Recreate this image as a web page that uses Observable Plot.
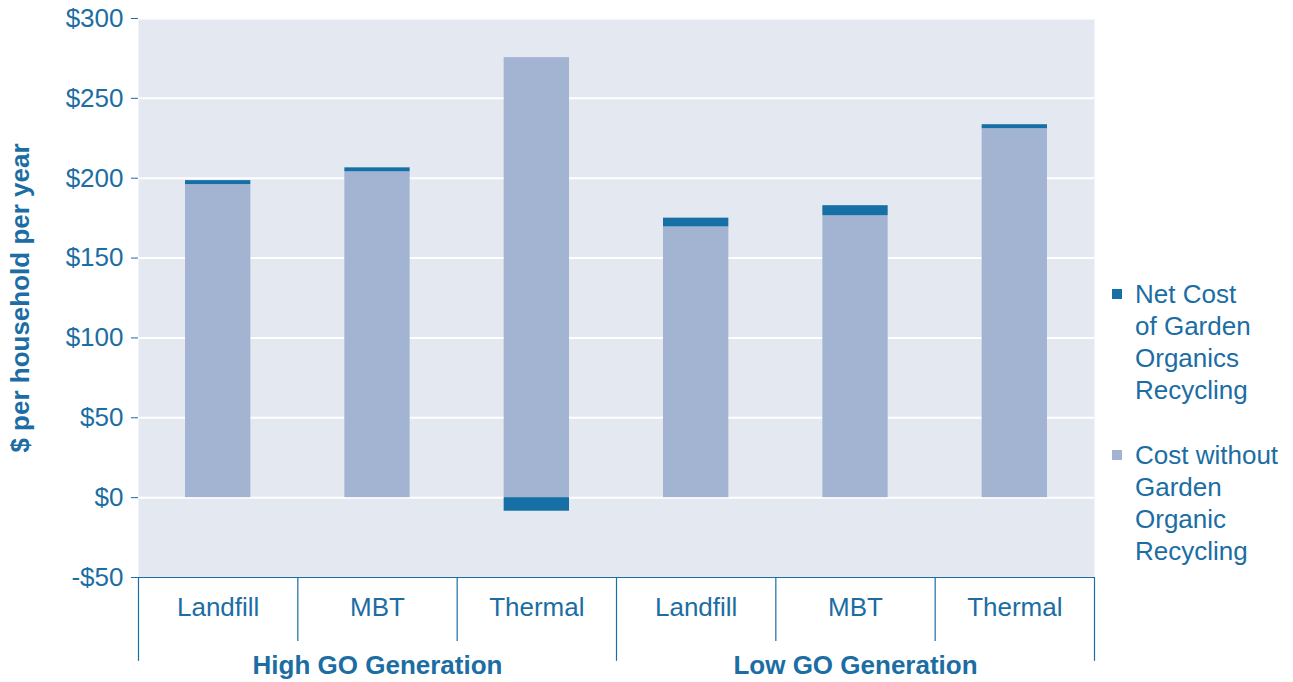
<!DOCTYPE html>
<html>
<head>
<meta charset="utf-8">
<script src="https://cdn.jsdelivr.net/npm/d3@7"></script>
<script src="https://cdn.jsdelivr.net/npm/@observablehq/plot@0.6"></script>
<style>
  body { margin: 0; background: #fff; font-family: Arial, "Liberation Sans", sans-serif; }
  #wrap { position: relative; width: 1293px; height: 682px; }
  #legend { position: absolute; left: 1111px; top: 278px; color: #1B6DA3; font-size: 26px; line-height: 32px; white-space: nowrap; }
  .item { position: relative; padding-left: 24px; margin-bottom: 33px; }
  .sw { position: absolute; left: 1px; top: 11px; width: 10px; height: 10px; }
</style>
</head>
<body>
<div id="wrap">
  <div id="chart"></div>
  <div id="legend"></div>
</div>
<script>
const groups = ["High GO Generation", "Low GO Generation"];
const types = ["Landfill", "MBT", "Thermal"];
const seriesNames = ["Cost without Garden Organic Recycling", "Net Cost of Garden Organics Recycling"];
const legendLabels = [["Net Cost", "of Garden", "Organics", "Recycling"], ["Cost without", "Garden", "Organic", "Recycling"]];
const costWithout = [196, 204, 275.5, 169.5, 176.5, 231];
const netCost = [2.5, 2.5, -8.5, 5.5, 6.3, 2.5];
const yTicks = [-50, 0, 50, 100, 150, 200, 250, 300];

const darkBlue = "#1770A5";
const lightBlue = "#A2B4D2";
const textColor = "#1B6DA3";

const cats = [];
groups.forEach((g, gi) => types.forEach((t, ti) => cats.push({g, gi, t, i: gi * types.length + ti})));
const data = [];
cats.forEach(c => {
  data.push({i: c.i, series: seriesNames[0], v: costWithout[c.i]});
  data.push({i: c.i, series: seriesNames[1], v: netCost[c.i]});
});
const seps = d3.range(0, cats.length + 1);
const groupEdges = d3.range(0, groups.length + 1).map(k => k * types.length);

const chart = Plot.plot({
  width: 1293,
  height: 682,
  marginTop: 18,
  marginLeft: 138,
  marginRight: 199,
  marginBottom: 105,
  style: {fontFamily: "Arial, 'Liberation Sans', sans-serif", color: textColor, background: "#fff"},
  x: {domain: [0, cats.length], axis: null},
  y: {domain: [-50, 300], axis: null},
  color: {domain: seriesNames, range: [lightBlue, darkBlue]},
  marks: [
    Plot.frame({fill: "#E4E8F1", stroke: null}),
    Plot.ruleY(yTicks.slice(1), {stroke: "#fff", strokeWidth: 2}),
    Plot.axisY({ticks: yTicks, tickFormat: d => (d < 0 ? "-$" : "$") + Math.abs(d), fontSize: 26, tickSize: 7, tickPadding: 8, stroke: textColor, fill: textColor, label: null}),
    Plot.rectY(data, {x1: "i", x2: d => d.i + 1, y: "v", fill: "series", insetLeft: 47, insetRight: 47}),
    Plot.ruleY([-50], {stroke: textColor, strokeWidth: 1.2}),
    Plot.ruleX(seps.filter(s => !groupEdges.includes(s)), {x: d => d, y1: -50, y2: -90, stroke: textColor, strokeWidth: 1.2}),
    Plot.ruleX(groupEdges, {x: d => d, y1: -50, y2: -102.5, stroke: textColor, strokeWidth: 1.2}),
    Plot.text(cats, {x: d => d.i + 0.5, y: -50, dy: 30, text: "t", fontSize: 26, fill: textColor}),
    Plot.text(groups, {x: (d, k) => k * types.length + types.length / 2, y: -50, dy: 88, text: d => d, fontSize: 26, fontWeight: "bold", fill: textColor}),
    Plot.text(["$ per household per year"], {frameAnchor: "left", textAnchor: "middle", dx: -118, text: d => d, rotate: -90, fontSize: 26, fontWeight: "bold", fill: textColor})
  ]
});
document.getElementById("chart").append(chart);

const legend = document.getElementById("legend");
[[darkBlue, legendLabels[0]], [lightBlue, legendLabels[1]]].forEach(([c, lines]) => {
  const it = document.createElement("div");
  it.className = "item";
  const sw = document.createElement("span");
  sw.className = "sw";
  sw.style.background = c;
  it.append(sw);
  lines.forEach(l => { const d = document.createElement("div"); d.textContent = l; it.append(d); });
  legend.append(it);
});
</script>
</body>
</html>
